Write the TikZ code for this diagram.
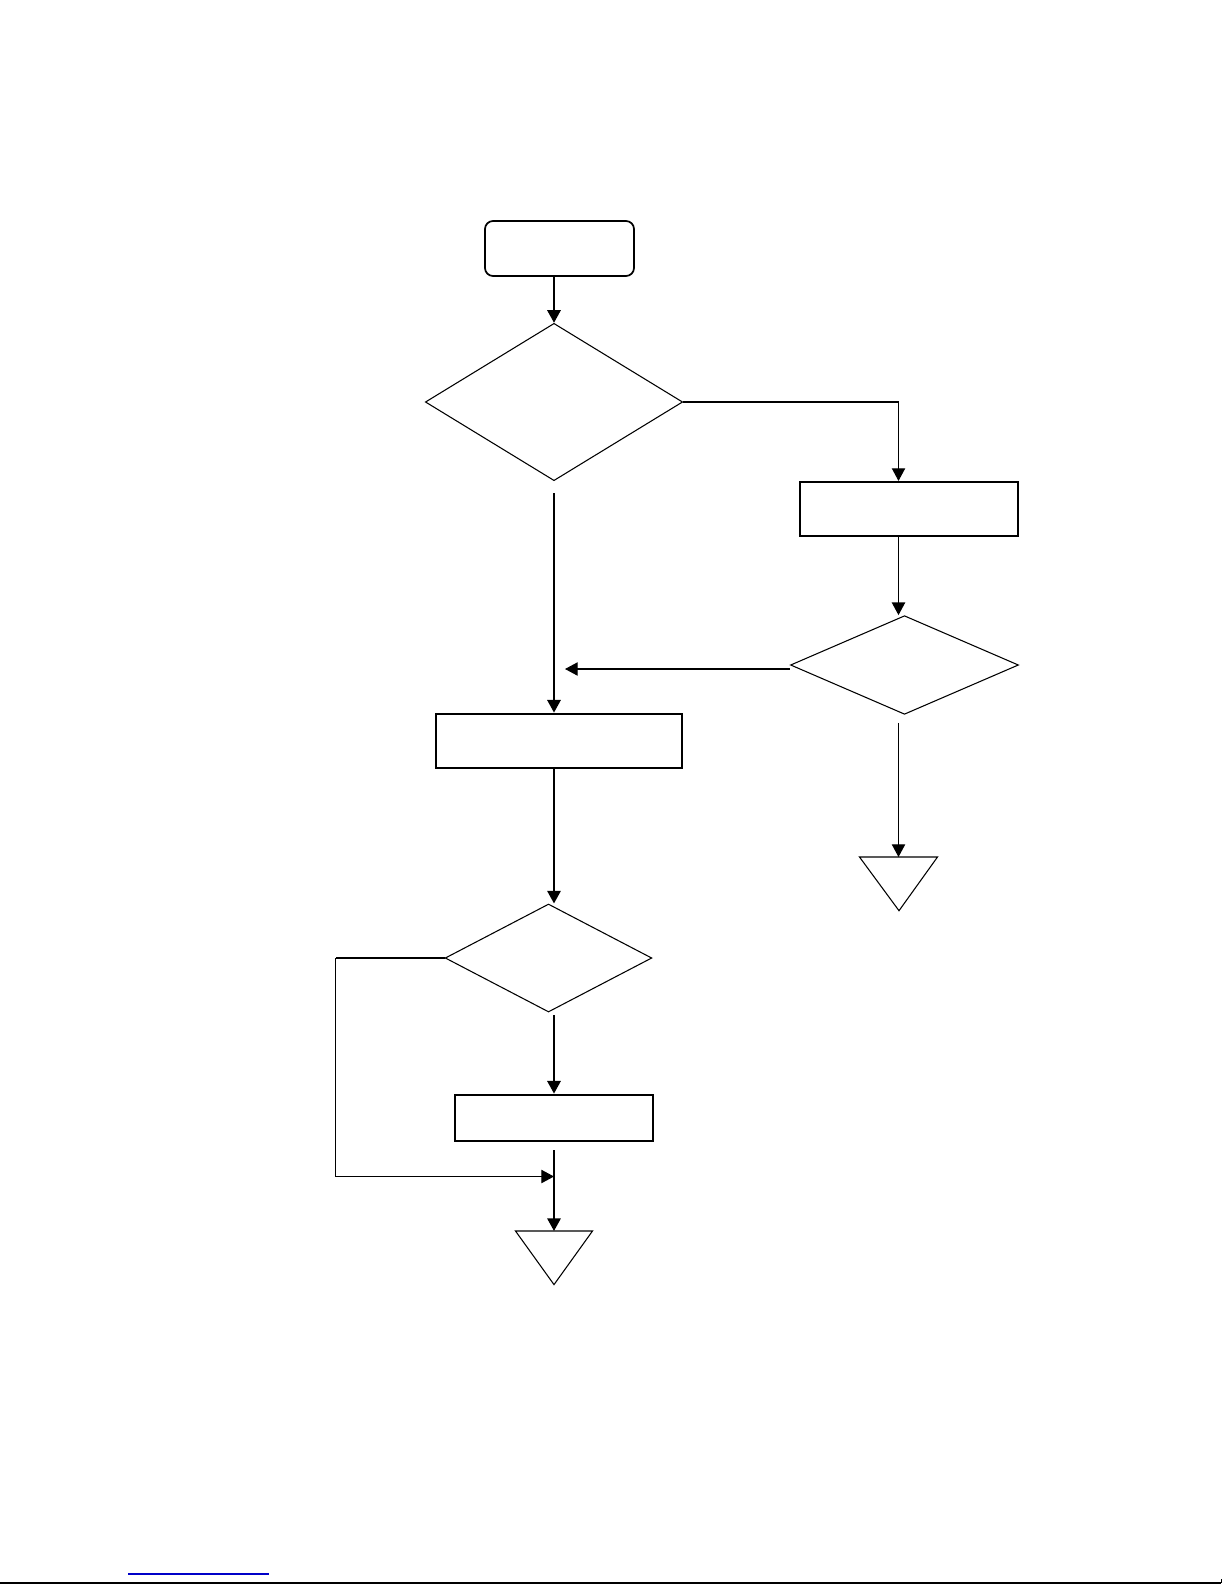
\documentclass[tikz,border=0pt]{standalone}
\usetikzlibrary{shapes.geometric,arrows.meta,calc}
\begin{document}
\begin{tikzpicture}[x=0.75pt,y=-0.75pt,
  thinln/.style={line width=0.8pt},
  thickln/.style={line width=1.6pt},
  boxnode/.style={draw,rectangle,line width=1.6pt,inner sep=0pt},
  decnode/.style={draw,diamond,line width=0.8pt,inner sep=0pt},
  arr/.style={-{Triangle[length=9.5pt,width=10pt]}},
  endtri/.style={draw,line width=0.8pt}]
\useasboundingbox (0,0) rectangle (1225,1585);
% nodes
\node[boxnode,rounded corners=6pt,line width=1.3pt,minimum width=111.75pt,minimum height=41.25pt] (start) at (559.5,248.5) {};
\node[decnode,minimum width=193pt,minimum height=118pt] (d1) at (554,402) {};
\node[boxnode,minimum width=163pt,minimum height=40.5pt] (r2) at (909,509) {};
\node[decnode,minimum width=171pt,minimum height=74pt] (d2) at (904.5,665) {};
\node[boxnode,minimum width=185pt,minimum height=41pt] (r3) at (559,741) {};
\node[decnode,minimum width=155pt,minimum height=81pt] (d3) at (548.5,958) {};
\node[boxnode,minimum width=148.5pt,minimum height=35pt] (r4) at (554,1118) {};
% end triangles
\coordinate (t1) at (554,1231);
\coordinate (t2) at (898.5,857);
\draw[endtri] (t1) ++(-38.5,0) -- ++(77,0) -- (554,1284.6) -- cycle;
\draw[endtri] (t2) ++(-39,0) -- ++(78,0) -- (899,910.7) -- cycle;
% helper coordinates
\coordinate (cx) at (554,0);
\coordinate (rx) at (898.5,0);
\coordinate (j2) at (565,669);
\coordinate (lp) at (335.6,958);
\coordinate (lj) at (554,1176.5);
% connectors
\draw[thickln,arr] (start.south -| cx) -- (d1.north);
\draw[thinln,arr] (d1.east) -| (r2.north -| rx);
\draw[thinln,arr] (r2.south -| rx) -- (d2.north -| rx);
\draw[thinln,arr] (d2.west |- j2) -- (j2);
\draw[thinln,arr,shorten <=6pt] (d2.south -| rx) -- (t2);
\draw[thickln,arr,shorten <=9pt] (d1.south) -- (r3.north -| cx);
\draw[thickln,arr] (r3.south -| cx) -- (d3.north -| cx);
\draw[thickln,arr,shorten <=2pt] (d3.south -| cx) -- (r4.north -| cx);
\draw[thickln,arr,shorten <=6pt] (r4.south -| cx) -- (t1);
\draw[thickln] (d3.west) -- (lp);
\draw[line width=1.2pt] (lp) -- (lp |- lj);
\draw[thinln,arr] (lp |- lj) -- (lj);
% page footer lines
\draw[line width=1.5pt] (0,1582.5) -- (1221,1582.5);
\draw[line width=0.6pt] (1221.5,1583) -- (1221.5,1579);
\draw[line width=0.9pt,color={rgb,255:red,0;green,0;blue,200}] (128,1574) -- (269,1574);
\end{tikzpicture}
\end{document}
